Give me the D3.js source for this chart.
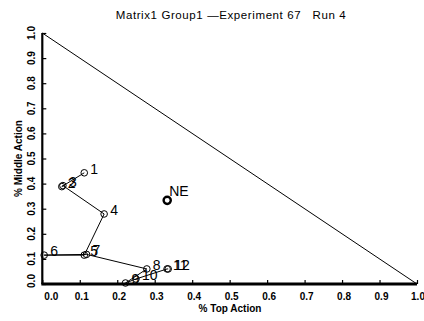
<!DOCTYPE html>
<html>
<head>
<meta charset="utf-8">
<script src="https://cdn.jsdelivr.net/npm/d3@7"></script>
<style>
  body { margin: 0; background: #fff; }
  svg { display: block; }
</style>
</head>
<body>
<div id="root"></div>
<script>
// trajectory of the run, one entry per trial
let trialLabels = ['1', '2', '3', '4', '5', '6', '7', '8', '9', '10', '11', '12'],
    topShare = [0.112, 0.052, 0.055, 0.165, 0.112, 0.005, 0.118, 0.279, 0.222, 0.25, 0.333, 0.336],
    middleShare = [0.443, 0.388, 0.392, 0.279, 0.115, 0.115, 0.118, 0.06, 0.004, 0.02, 0.06, 0.06];

// Nash equilibrium marker
let neTop = 1 / 3,
    neMiddle = 1 / 3;

let tickValues = [0, 0.1, 0.2, 0.3, 0.4, 0.5, 0.6, 0.7, 0.8, 0.9, 1.0],
    chartTitle = 'Matrix1 Group1 \u2014Experiment 67   Run 4';

let width = 424,
    height = 321,
    font = '"Liberation Sans", Arial, sans-serif';

let svg = d3.select('#root')
    .append('svg')
    .attr('width', width)
    .attr('height', height);

let x = d3.scaleLinear().domain([0, 1]).range([42.3, 417]),
    y = d3.scaleLinear().domain([0, 1]).range([284, 33]);

// title
svg.append('text')
    .attr('x', 231)
    .attr('y', 19)
    .attr('text-anchor', 'middle')
    .style('font-family', font)
    .style('font-size', '11.5px')
    .style('letter-spacing', '0.6px')
    .style('white-space', 'pre')
    .text(chartTitle);

// x axis
let xAxis = svg.append('g')
    .attr('transform', 'translate(0,' + y(0) + ')')
    .call(d3.axisTop(x).tickValues(tickValues).tickSize(4).tickFormat(''));
xAxis.select('.domain').attr('stroke-width', 3).attr('d', 'M' + (x(0) - 1) + ',0H' + x(1));
xAxis.selectAll('.tick line').attr('stroke-width', 1.2);

svg.append('g')
    .selectAll('text')
    .data(tickValues)
    .enter()
    .append('text')
    .attr('x', (d, i) => i === 0 ? x(d) + 9 : (i === tickValues.length - 1 ? x(d) + 1 : x(d) + 2))
    .attr('y', y(0) + 16)
    .attr('text-anchor', 'middle')
    .style('font-family', font)
    .style('font-size', '10px')
    .style('font-weight', 'bold')
    .text(d => d3.format('.1f')(d));

svg.append('text')
    .attr('x', 230)
    .attr('y', 312)
    .attr('text-anchor', 'middle')
    .style('font-family', font)
    .style('font-size', '10px')
    .style('font-weight', 'bold')
    .text('% Top Action');

// y axis
let yAxis = svg.append('g')
    .attr('transform', 'translate(' + x(0) + ',0)')
    .call(d3.axisRight(y).tickValues(tickValues).tickSize(4).tickFormat(''));
yAxis.select('.domain').attr('stroke-width', 2.2).attr('d', 'M0,' + y(0) + 'V' + y(1));
yAxis.selectAll('.tick line').attr('stroke-width', 1.2);

svg.append('g')
    .selectAll('text')
    .data(tickValues)
    .enter()
    .append('text')
    .attr('transform', (d, i) => 'translate(35,' + (i === 0 ? y(d) - 3 : y(d)) + ') rotate(-90)')
    .attr('text-anchor', 'middle')
    .style('font-family', font)
    .style('font-size', '10px')
    .style('font-weight', 'bold')
    .text(d => d3.format('.1f')(d));

svg.append('text')
    .attr('transform', 'translate(22,' + y(0.5) + ') rotate(-90)')
    .attr('text-anchor', 'middle')
    .style('font-family', font)
    .style('font-size', '10px')
    .style('font-weight', 'bold')
    .text('% Middle Action');

// simplex boundary top + middle = 1
svg.append('line')
    .attr('x1', x(0)).attr('y1', y(1))
    .attr('x2', x(1)).attr('y2', y(0))
    .attr('stroke', '#000')
    .attr('stroke-width', 1);

let points = trialLabels.map((label, i) => ({ label, top: topShare[i], middle: middleShare[i] }));

svg.append('path')
    .datum(points)
    .attr('fill', 'none')
    .attr('stroke', '#000')
    .attr('stroke-width', 1)
    .attr('d', d3.line().x(d => x(d.top)).y(d => y(d.middle)));

svg.append('g')
    .selectAll('circle')
    .data(points)
    .enter()
    .append('circle')
    .attr('cx', d => x(d.top))
    .attr('cy', d => y(d.middle))
    .attr('r', 3.3)
    .attr('fill', 'none')
    .attr('stroke', '#000')
    .attr('stroke-width', 1);

// trial numbers overlap in the original where trials coincide
svg.append('g')
    .selectAll('text')
    .data(points)
    .enter()
    .append('text')
    .attr('x', d => x(d.top) + 6)
    .attr('y', d => y(d.middle) + 1)
    .style('font-family', font)
    .style('font-size', '14px')
    .text(d => d.label);

// NE
svg.append('circle')
    .attr('cx', x(neTop))
    .attr('cy', y(neMiddle))
    .attr('r', 3.6)
    .attr('fill', 'none')
    .attr('stroke', '#000')
    .attr('stroke-width', 2.4);

svg.append('text')
    .attr('x', x(neTop) + 2)
    .attr('y', y(neMiddle) - 4)
    .style('font-family', font)
    .style('font-size', '14px')
    .text('NE');
</script>
</body>
</html>
